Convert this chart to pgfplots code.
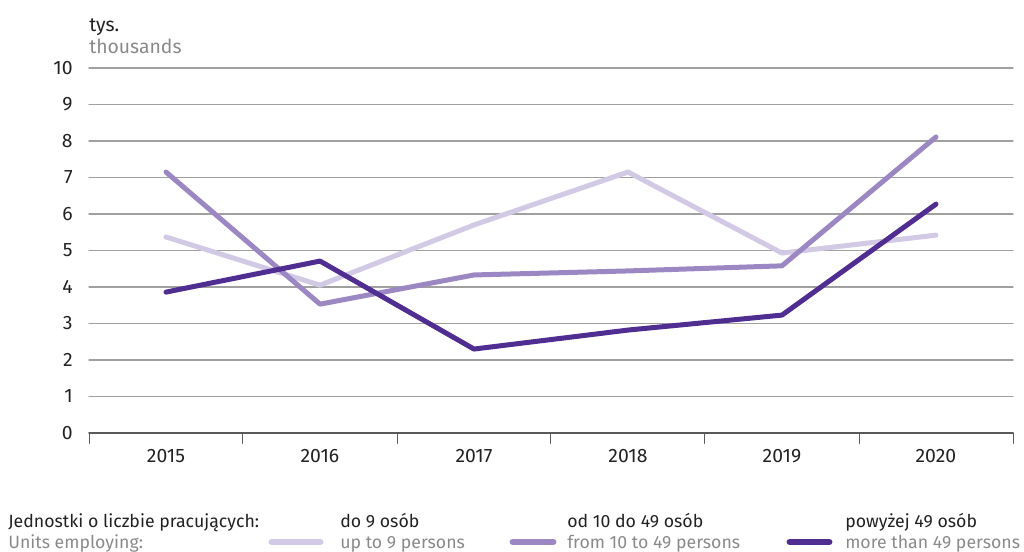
\documentclass[border=0pt]{standalone}
\usepackage{pgfplots}
\pgfplotsset{compat=1.18}
\usepackage{fontspec}
\setmainfont{Fira Sans}
\definecolor{lightp}{HTML}{D2C9E4}
\definecolor{midp}{HTML}{9B88C2}
\definecolor{darkp}{HTML}{4F2D91}
\definecolor{txt}{HTML}{222222}
\definecolor{sub}{HTML}{8A8A8A}
\definecolor{gridc}{HTML}{A0A0A0}
\begin{document}
\begin{tikzpicture}[x=0.72bp,y=-0.72bp]
\path[use as bounding box] (0,0) rectangle (1024,552);
\begin{axis}[
    at={(89*0.72bp,-433*0.72bp)}, anchor=south west,
    scale only axis,
    width=924*0.72bp, height=365*0.72bp,
    xmin=2014.5, xmax=2020.5,
    ymin=0, ymax=10,
    xtick={2015,...,2020},
    xticklabels={2015,2016,2017,2018,2019,2020},
    minor xtick={2014.5,2015.5,...,2020.5},
    ytick={0,...,10},
    major x tick style={draw=none},
    minor x tick style={draw=black!65, line width=0.7pt},
    minor tick length=7.5bp,
    tick align=outside,
    ytick style={draw=none},
    axis x line*=bottom,
    axis y line*=left,
    y axis line style={draw=none},
    x axis line style={-, draw=black!65, line width=0.8pt},
    ymajorgrids=true,
    grid style={gridc, line width=1pt},
    /pgf/number format/assume math mode=true,
    tick label style={font=\fontsize{14}{16}\selectfont, text=txt},
    yticklabel style={xshift=-4bp},
    xticklabel style={yshift=-4bp},
    line join=round, line cap=round,
    clip=false
]
\addplot[lightp, line width=3.6bp] coordinates {
    (2015,5.37) (2016,4.05) (2017,5.70) (2018,7.15) (2019,4.93) (2020,5.42)};
\addplot[midp, line width=3.6bp] coordinates {
    (2015,7.15) (2016,3.53) (2017,4.33) (2018,4.44) (2019,4.58) (2020,8.11)};
\addplot[darkp, line width=3.6bp] coordinates {
    (2015,3.86) (2016,4.71) (2017,2.30) (2018,2.82) (2019,3.23) (2020,6.27)};
\end{axis}
\begin{scope}[every node/.style={inner sep=0pt, anchor=base west}]
\node[text=txt, font=\fontsize{14}{16}\selectfont] at (89,32) {tys.};
\node[text=sub, font=\fontsize{14}{16}\selectfont] at (89,54) {thousands};
\node[text=txt, font=\fontsize{12.8}{15}\selectfont] at (8,527) {Jednostki o liczbie pracujących:};
\node[text=sub, font=\fontsize{12.8}{15}\selectfont] at (8,548) {Units employing:};
\draw[lightp, line width=5bp, line cap=round] (272,542) -- (320,542);
\node[text=txt, font=\fontsize{12.8}{15}\selectfont] at (340,527) {do 9 osób};
\node[text=sub, font=\fontsize{12.8}{15}\selectfont] at (340,548) {up to 9 persons};
\draw[midp, line width=5bp, line cap=round] (513,542) -- (553,542);
\node[text=txt, font=\fontsize{12.8}{15}\selectfont] at (567,527) {od 10 do 49 osób};
\node[text=sub, font=\fontsize{12.8}{15}\selectfont] at (567,548) {from 10 to 49 persons};
\draw[darkp, line width=5bp, line cap=round] (790,542) -- (829,542);
\node[text=txt, font=\fontsize{12.8}{15}\selectfont] at (845,527) {powyżej 49 osób};
\node[text=sub, font=\fontsize{12.8}{15}\selectfont] at (845,548) {more than 49 persons};
\end{scope}
\end{tikzpicture}
\end{document}
